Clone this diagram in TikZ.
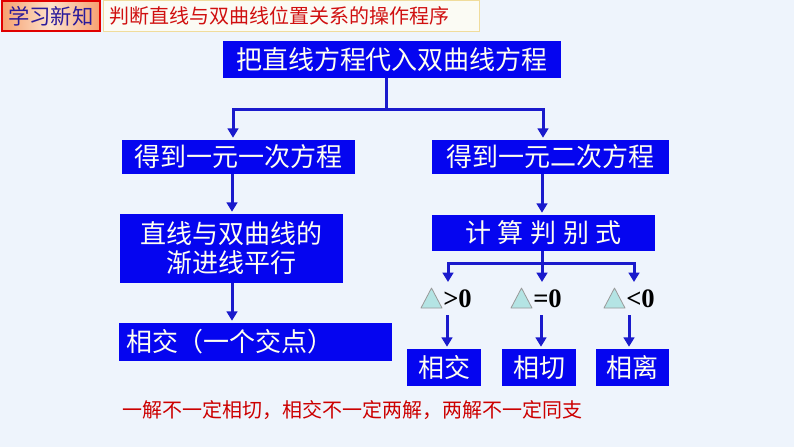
\documentclass[tikz,border=0pt]{standalone}
\usepackage{fontspec}
\setmainfont{Liberation Serif}
\newfontfamily\cjk{Noto Sans CJK SC}
\usetikzlibrary{arrows.meta}
\definecolor{bgblue}{HTML}{EEF4FC}
\definecolor{boxblue}{HTML}{0505F0}
\definecolor{boxtext}{HTML}{FFFFF0}
\definecolor{linkblue}{HTML}{1A1ACC}
\definecolor{tricyan}{HTML}{B4E4E4}
\definecolor{hdrred}{HTML}{E00000}
\definecolor{hdrorange}{HTML}{F6A070}
\definecolor{hdrlight}{HTML}{FDE2CC}
\definecolor{hdrtext}{HTML}{2B1B9B}
\definecolor{titlered}{HTML}{D01010}
\definecolor{hdrline}{HTML}{F0DC9C}
\definecolor{hdrfill}{HTML}{FBFBF4}
\definecolor{notered}{HTML}{CC0000}
\tikzset{
  bx/.style={fill=boxblue, text=boxtext, font=\cjk\fontsize{19.5}{21.75}\selectfont, inner sep=0pt, align=center},
  con/.style={draw=linkblue, line width=2.25pt},
  arr/.style={con, -{Triangle[width=8pt,length=7pt]}, shorten >=1.5pt},
  delta/.style={font=\bfseries\fontsize{20}{22}\selectfont, inner sep=0pt, anchor=west},
  tri/.style={fill=tricyan, draw=gray!80, line width=0.6pt, line join=round}
}
\begin{document}
\begin{tikzpicture}[x=0.75pt,y=-0.75pt]
\useasboundingbox (0,0) rectangle (794,447);
\fill[bgblue] (0,0) rectangle (794,447);

% header
\node[draw=hdrred, line width=1.5pt, left color=hdrorange, right color=hdrorange, middle color=hdrlight,
      minimum width=74pt, minimum height=22.5pt, inner sep=0pt, text=hdrtext,
      font=\cjk\fontsize{16}{18}\selectfont] (h1) at (51,16) {学习新知};
\node[draw=hdrline, line width=0.75pt, fill=hdrfill, minimum height=23.25pt,
      text width=272pt, inner xsep=5pt, inner ysep=0pt, align=left, text=titlered,
      font=\cjk\fontsize{15}{18}\selectfont] (h2) at (291,15.5) {判断直线与双曲线位置关系的操作程序};

% boxes
\node[bx, minimum width=253.5pt, minimum height=27.75pt] (top) at (392,59.5) {把直线方程代入双曲线方程};
\node[bx, minimum width=174.75pt, minimum height=25.5pt] (L1) at (238.5,157) {得到一元一次方程};
\node[bx, minimum width=167.25pt, minimum height=51.75pt] (L2) at (231.5,248.5) {直线与双曲线的\\渐进线平行};
\node[bx, text width=194.25pt, inner xsep=5.25pt, align=left, minimum height=28.5pt] (L3) at (255.5,342) {相交（一个交点）};
\node[bx, minimum width=177.75pt, minimum height=25.5pt] (R1) at (550.5,157) {得到一元二次方程};
\node[bx, minimum width=167.25pt, minimum height=27pt] (R2) at (543.5,233) {计\hspace{5pt}算\hspace{5pt}判\hspace{5pt}别\hspace{5pt}式};
\node[bx, minimum width=55.5pt, minimum height=27.75pt] (B1) at (444,367.5) {相交};
\node[bx, minimum width=55.5pt, minimum height=27.75pt] (B2) at (539,367.5) {相切};
\node[bx, minimum width=54.75pt, minimum height=27.75pt] (B3) at (632.5,367.5) {相离};

% top split
\coordinate (j0) at (386,109);
\coordinate (jl) at (233,109);
\coordinate (jr) at (543,109);
\draw[con] (j0 |- top.south) -- (j0);
\draw[arr] (j0) -- (jl) -- (jl |- L1.north);
\draw[arr] (j0) -- (jr) -- (jr |- R1.north);

% left column
\coordinate (cl) at (232,0);
\draw[arr] (cl |- L1.south) -- (cl |- L2.north);
\draw[arr] (cl |- L2.south) -- (cl |- L3.north);

% right column
\coordinate (cr) at (542,0);
\draw[arr] (cr |- R1.south) -- (cr |- R2.north);
\coordinate (k0) at (542,263);
\coordinate (k1) at (448,263);
\coordinate (k3) at (634,263);
\coordinate (e1) at (448,284);
\coordinate (e2) at (542,284);
\coordinate (e3) at (634,284);
\draw[con] (cr |- R2.south) -- (k0);
\draw[arr] (k0) -- (k1) -- (e1);
\draw[arr] (k0) -- (e2);
\draw[arr] (k0) -- (k3) -- (e3);

% discriminant labels
\draw[tri] (421,308) -- (431.5,288) -- (442,308) -- cycle;
\node[delta] (d1) at (443,299) {>0};
\draw[tri] (511,308) -- (521.5,288) -- (532,308) -- cycle;
\node[delta] (d2) at (533,299) {=0};
\draw[tri] (604,308) -- (614.5,288) -- (625,308) -- cycle;
\node[delta] (d3) at (626,299) {<0};

\coordinate (f1) at (447,315);
\coordinate (f2) at (541,315);
\coordinate (f3) at (629,315);
\draw[arr] (f1) -- (f1 |- B1.north);
\draw[arr] (f2) -- (f2 |- B2.north);
\draw[arr] (f3) -- (f3 |- B3.north);

% note
\node[text=notered, font=\cjk\fontsize{15}{18}\selectfont, inner sep=0pt] (note) at (352.5,410) {一解不一定相切，相交不一定两解，两解不一定同支};
\end{tikzpicture}
\end{document}
